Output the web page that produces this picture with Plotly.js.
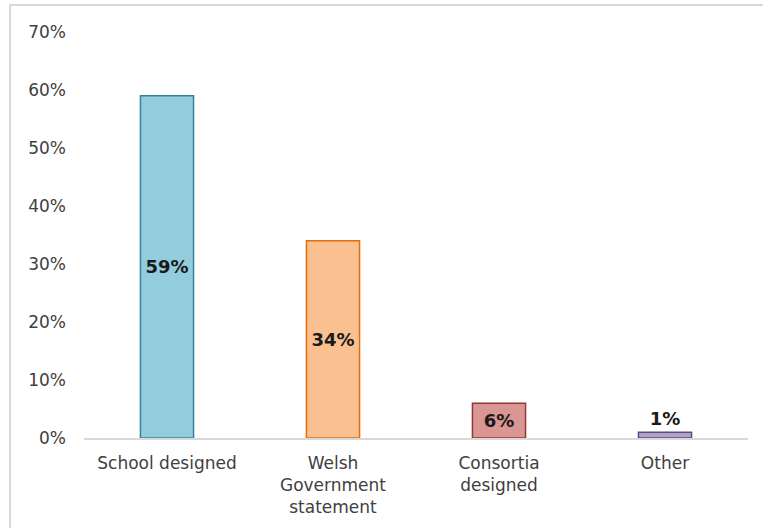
<!DOCTYPE html>
<html>
<head>
<meta charset="utf-8">
<script src="https://cdn.plot.ly/plotly-3.0.1.min.js"></script>
<style>
html,body{margin:0;padding:0;background:#fff;}
#frame{position:absolute;left:9px;top:4px;width:760px;height:530px;border-top:2px solid #d9d9d9;border-left:2px solid #d9d9d9;}
#chart{position:absolute;left:0;top:0;width:763px;height:528px;}
</style>
</head>
<body>
<div id="frame"></div>
<div id="chart"></div>
<script>
const categories = ["School designed", "Welsh<br>Government<br>statement", "Consortia<br>designed", "Other"];
const values = [0.59, 0.34, 0.06, 0.01];
const labels = ["59%", "34%", "6%", "1%"];
const fillColors = ["#93cddd", "#fac090", "#d99694", "#b3a2c7"];
const lineColors = ["#31859c", "#e46c0a", "#953735", "#604a7b"];
const labelPositions = ["inside", "inside", "inside", "outside"];
const yTickVals = [0, 0.1, 0.2, 0.3, 0.4, 0.5, 0.6, 0.7];
const yTickText = ["0%", "10%", "20%", "30%", "40%", "50%", "60%", "70%"];

const trace = {
  type: "bar",
  x: categories,
  y: values,
  text: labels,
  textposition: labelPositions,
  insidetextanchor: "middle",
  constraintext: "none",
  textfont: {family: "DejaVu Sans", size: 18, color: "#1a1a1a", weight: "bold"},
  outsidetextfont: {family: "DejaVu Sans", size: 18, color: "#1a1a1a", weight: "bold"},
  insidetextfont: {family: "DejaVu Sans", size: 18, color: "#1a1a1a", weight: "bold"},
  marker: {color: fillColors, line: {color: lineColors, width: 1.5}},
  width: 0.32,
  cliponaxis: false,
  hoverinfo: "skip"
};

const layout = {
  width: 763,
  height: 528,
  margin: {l: 84, r: 15, t: 32, b: 90},
  paper_bgcolor: "rgba(0,0,0,0)",
  plot_bgcolor: "rgba(0,0,0,0)",
  font: {family: "DejaVu Sans", size: 17, color: "#404040"},
  showlegend: false,
  xaxis: {
    type: "category",
    showline: true,
    linecolor: "#d9d9d9",
    linewidth: 1.5,
    showgrid: false,
    ticks: "",
    ticklabelstandoff: 9,
    tickfont: {family: "DejaVu Sans", size: 17, color: "#404040"},
    fixedrange: true
  },
  yaxis: {
    range: [0, 0.7],
    tickvals: yTickVals,
    ticktext: yTickText,
    showgrid: false,
    zeroline: false,
    showline: false,
    ticks: "",
    ticklabelstandoff: 17,
    tickfont: {family: "DejaVu Sans", size: 17, color: "#404040"},
    fixedrange: true
  }
};

Plotly.newPlot("chart", [trace], layout, {displayModeBar: false, staticPlot: true});
</script>
</body>
</html>
